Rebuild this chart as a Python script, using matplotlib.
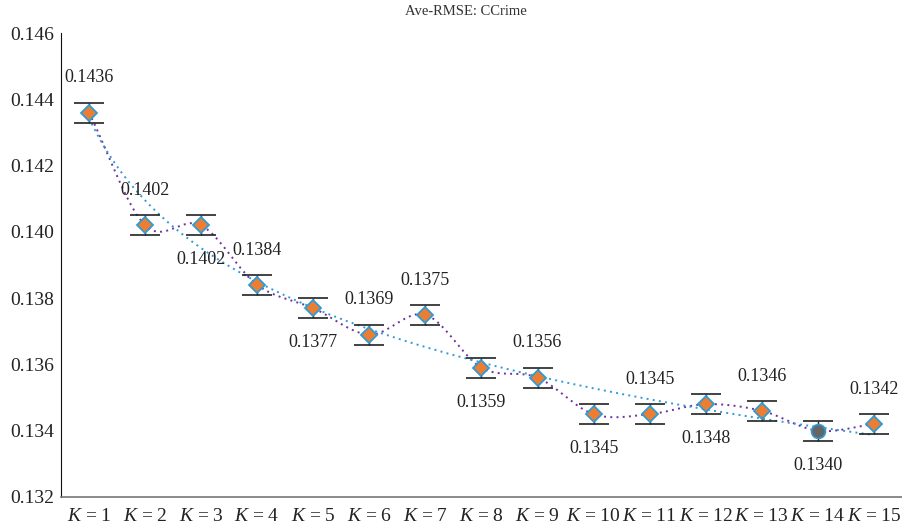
import numpy as np
import matplotlib.pyplot as plt

K = list(range(1, 16))
RMSE = [0.1436, 0.1402, 0.1402, 0.1384, 0.1377, 0.1369, 0.1375, 0.1359,
        0.1356, 0.1345, 0.1345, 0.1348, 0.1346, 0.1340, 0.1342]
ERR = [0.0003] * 15
LABEL_POS = ["above", "above", "below", "above", "below", "above", "above", "below",
             "above", "below", "above", "below", "above", "below", "above"]
BEST = 14

ORANGE = "#ED7D31"
BLUE = "#2E9BD6"
PURPLE = "#7030A0"
GREY = "#666666"

plt.rcParams["font.family"] = ["Liberation Serif", "DejaVu Serif"]
plt.rcParams["mathtext.fontset"] = "custom"
plt.rcParams["mathtext.rm"] = "Liberation Serif"
plt.rcParams["mathtext.it"] = "Liberation Serif:italic"


def catmull_rom(x, y, n=20):
    # smoothed line through the points, like a spreadsheet "smooth line"
    x = np.asarray(x, float)
    y = np.asarray(y, float)
    px = np.concatenate([[2 * x[0] - x[1]], x, [2 * x[-1] - x[-2]]])
    py = np.concatenate([[2 * y[0] - y[1]], y, [2 * y[-1] - y[-2]]])
    xs, ys = [], []
    t = np.linspace(0, 1, n, endpoint=False)
    for i in range(1, len(px) - 2):
        for arr, out in ((px, xs), (py, ys)):
            p0, p1, p2, p3 = arr[i - 1], arr[i], arr[i + 1], arr[i + 2]
            out.extend(0.5 * (2 * p1 + (-p0 + p2) * t
                              + (2 * p0 - 5 * p1 + 4 * p2 - p3) * t ** 2
                              + (-p0 + 3 * p1 - 3 * p2 + p3) * t ** 3))
    xs.append(x[-1])
    ys.append(y[-1])
    return np.array(xs), np.array(ys)


fig = plt.figure(figsize=(9.02, 5.29), dpi=100)
ax = fig.add_axes([0.0676, 0.0605, 0.9324, 0.877])

# smoothed line through points
sx, sy = catmull_rom(K, RMSE)
ax.plot(sx, sy, color=PURPLE, lw=1.4, ls=(0, (1, 2.2)), zorder=2)

# log trend line
coef = np.polyfit(np.log(K), RMSE, 2)
tx = np.linspace(1, 15, 200)
ax.plot(tx, np.polyval(coef, np.log(tx)), color=BLUE, lw=1.4, ls=(0, (1, 2.2)), zorder=2)

ax.errorbar(K, RMSE, yerr=ERR, fmt="none", ecolor="#222222", elinewidth=1.0,
            capsize=11, capthick=1.2, zorder=3)

for k, v in zip(K, RMSE):
    if k == BEST:
        ax.plot(k, v, marker="o", ms=10, mfc=GREY, mec=BLUE, mew=1.2, zorder=4)
    else:
        ax.plot(k, v, marker="D", ms=8, mfc=ORANGE, mec=BLUE, mew=1.3, zorder=4)

for k, v, pos in zip(K, RMSE, LABEL_POS):
    dy = 25 if pos == "above" else -25
    ax.annotate(f"{v:.4f}", (k, v), xytext=(0, dy), textcoords="offset points",
                ha="center", va="center", fontsize=13, color="#222222")

ax.set_xlim(0.5, 15.5)
ax.set_ylim(0.132, 0.146)
ax.set_yticks(np.arange(0.132, 0.1461, 0.002))
ax.set_yticklabels([f"{t:.3f}" for t in np.arange(0.132, 0.1461, 0.002)])
ax.set_xticks(K)
ax.set_xticklabels([f"$K$ = {k}" for k in K])
ax.tick_params(axis="both", length=0, labelsize=14, colors="#222222")
ax.tick_params(axis="x", pad=8)
ax.tick_params(axis="y", pad=5)

ax.spines["top"].set_visible(False)
ax.spines["right"].set_visible(False)
ax.spines["left"].set_color("#111111")
ax.spines["bottom"].set_color("#777777")
ax.spines["bottom"].set_linewidth(1.2)

fig.text(0.517, 0.978, "Ave-RMSE: CCrime", ha="center", va="center", fontsize=10.5, color="#333333")

fig.savefig("out.png", dpi=100)
